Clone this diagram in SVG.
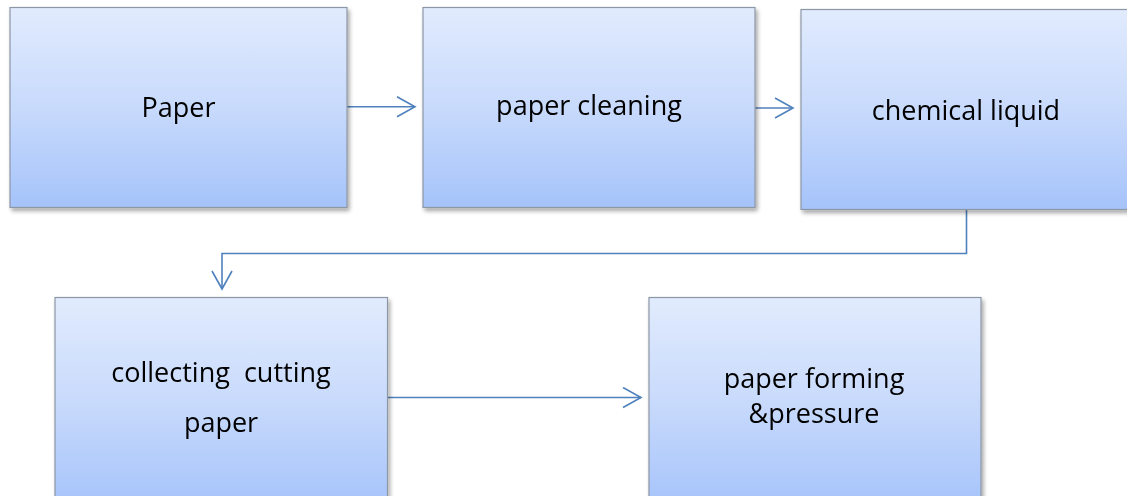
<svg xmlns="http://www.w3.org/2000/svg" width="1127" height="496" viewBox="0 0 1127 496">
<style>
.box{fill:url(#g);stroke:#8c97a6;stroke-width:1.2}
.lbl{font-family:"Open Sans","Liberation Sans",sans-serif;font-size:27px;fill:#000;text-anchor:middle;white-space:pre}
.con{fill:none;stroke:#4f81bd;stroke-width:1.6;marker-end:url(#arr)}
</style>
<defs>
<linearGradient id="g" x1="0" y1="0" x2="0" y2="1">
<stop offset="0" stop-color="#e1ebfd"/>
<stop offset="0.5" stop-color="#c8dafc"/>
<stop offset="1" stop-color="#a5c3fa"/>
</linearGradient>
<filter id="sh" x="-5%" y="-5%" width="115%" height="115%">
<feGaussianBlur in="SourceAlpha" stdDeviation="2"/>
<feOffset dx="2" dy="3" result="b"/>
<feComponentTransfer><feFuncA type="linear" slope="0.35"/></feComponentTransfer>
<feMerge><feMergeNode/><feMergeNode in="SourceGraphic"/></feMerge>
</filter>
<marker id="arr" markerUnits="userSpaceOnUse" markerWidth="24" markerHeight="24" refX="19" refY="11" orient="auto">
<path d="M1,1 L19,11 L1,21" fill="none" stroke="#4f81bd" stroke-width="1.6"/>
</marker>
</defs>
<g id="connectors">
<path class="con" d="M347,106.7 H415"/>
<path class="con" d="M755,108 H793"/>
<path class="con" d="M966.5,209 V253.5 H222 V289"/>
<path class="con" d="M387.5,397.5 H641"/>
</g>
<g id="n1" filter="url(#sh)">
<rect class="box" x="10" y="7.5" width="337" height="200"/>
<text class="lbl" x="178.5" y="116.5">Paper</text>
</g>
<g id="n2" filter="url(#sh)">
<rect class="box" x="423" y="7.5" width="332" height="200"/>
<text class="lbl" x="589" y="115">paper cleaning</text>
</g>
<g id="n3" filter="url(#sh)">
<rect class="box" x="801" y="9.5" width="332" height="200"/>
<text class="lbl" x="966" y="120">chemical liquid</text>
</g>
<g id="n4" filter="url(#sh)">
<rect class="box" x="55" y="297.5" width="332.5" height="210"/>
<text class="lbl" x="221" y="381.5" xml:space="preserve">collecting  cutting</text>
<text class="lbl" x="221" y="431.5">paper</text>
</g>
<g id="n5" filter="url(#sh)">
<rect class="box" x="649" y="297.5" width="332" height="210"/>
<text class="lbl" x="814" y="388">paper forming</text>
<text class="lbl" x="814" y="423">&amp;pressure</text>
</g>
</svg>
